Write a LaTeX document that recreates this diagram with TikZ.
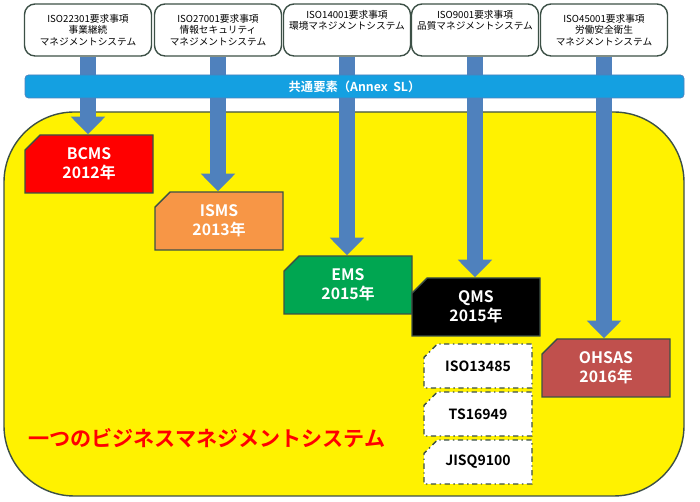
\documentclass[tikz,border=0pt]{standalone}
\usepackage{fontspec}
\setmainfont{Noto Sans CJK JP}[BoldFont={Noto Sans CJK JP Bold}]
\usetikzlibrary{shapes.misc,arrows.meta}
\definecolor{arrowblue}{RGB}{79,129,189}
\definecolor{barblue}{RGB}{20,160,225}
\definecolor{isms}{RGB}{247,150,70}
\definecolor{ems}{RGB}{0,166,81}
\definecolor{ohsas}{RGB}{192,80,77}
\definecolor{edge}{RGB}{60,80,70}
\tikzset{
  topbox/.style={draw=edge, thick, rounded corners=6pt, fill=white, minimum width=127*0.02cm, minimum height=52*0.02cm, align=center, font=\fontsize{5.5}{6.5}\selectfont, inner sep=1pt},
  sysbox/.style={chamfered rectangle, chamfered rectangle corners=north west, chamfered rectangle xsep=5pt, draw=edge, thick, minimum width=128*0.02cm, minimum height=58*0.02cm, align=center, text=white, font=\fontsize{9}{11}\selectfont\bfseries},
  subbox/.style={chamfered rectangle, chamfered rectangle corners=north west, chamfered rectangle xsep=4pt, draw=edge, thick, dash dot, fill=white, minimum width=108*0.02cm, minimum height=44*0.02cm, font=\fontsize{8}{10}\selectfont\bfseries},
  flow/.style={arrowblue, line width=9pt, -{Triangle[width=19pt,length=10pt]}}
}
\begin{document}
\begin{tikzpicture}[x=0.02cm,y=-0.02cm]
\useasboundingbox (0,0) rectangle (700,502);
\fill[white] (0,0) rectangle (700,502);

\draw[fill=yellow, draw=edge, thick, rounded corners=40] (4,112) rectangle (684,496);

\node[topbox] (t1) at (88,30) {ISO22301要求事項\\事業継続\\マネジメントシステム};
\node[topbox] (t2) at (218,30) {ISO27001要求事項\\情報セキュリティ\\マネジメントシステム};
\node[topbox] (t3) at (347,30) {ISO14001要求事項\\環境マネジメントシステム\\[5pt]};
\node[topbox] (t4) at (475,30) {ISO9001要求事項\\品質マネジメントシステム\\[5pt]};
\node[topbox] (t5) at (604,30) {ISO45001要求事項\\労働安全衛生\\マネジメントシステム};

\node[sysbox, fill=red] (bcms) at (89,164) {BCMS\\2012年};
\node[sysbox, fill=isms] (isms) at (219,221) {ISMS\\2013年};
\node[sysbox, fill=ems] (ems) at (348,285) {EMS\\2015年};
\node[sysbox, fill=black] (qms) at (476,307) {QMS\\2015年};
\node[sysbox, fill=ohsas] (ohsas) at (606,368) {OHSAS\\2016年};

\draw[flow] (t1.south) -- (t1.south |- bcms.north);
\draw[flow] (t2.south) -- (t2.south |- isms.north);
\draw[flow] (t3.south) -- (t3.south |- ems.north);
\draw[flow] (t4.south) -- (t4.south |- qms.north);
\draw[flow] (t5.south) -- (t5.south |- ohsas.north);

\node[fill=barblue, draw=arrowblue, rounded corners=2pt, minimum width=659*0.02cm, minimum height=23*0.02cm, text=white, font=\fontsize{7}{8}\selectfont\bfseries, inner sep=0pt] (sl) at (354.5,86.5) {共通要素（Annex\ \ SL）};

\node[subbox] (iso) at (478,366) {ISO13485};
\node[subbox] (ts) at (478,414) {TS16949};
\node[subbox] (jisq) at (478,462) {JISQ9100};

\node[anchor=west, text=red, font=\fontsize{12}{14}\selectfont\bfseries] (one) at (22,438) {一つのビジネスマネジメントシステム};
\end{tikzpicture}
\end{document}
